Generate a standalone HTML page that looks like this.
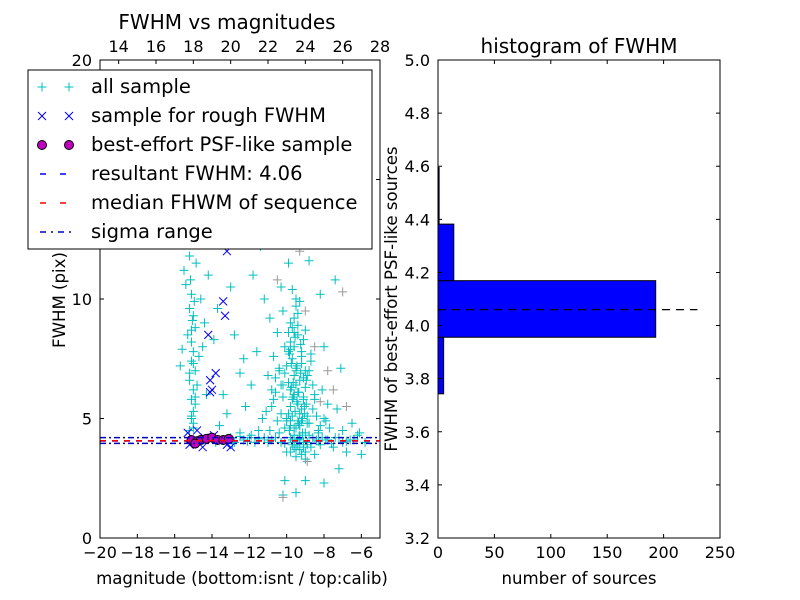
<!DOCTYPE html>
<html><head><meta charset="utf-8"><style>
body{margin:0;background:#fff}
svg{display:block;font-family:"DejaVu Sans","Liberation Sans",sans-serif}
</style></head><body>
<svg id="chart" width="800" height="600" viewBox="0 0 800 600"></svg>
<script>
// ---------- data ----------
const allX=[-15.2,-15.1,-15.0,-15.1,-15.0,-15.2,-14.9,-15.1,-15.0,-15.1,-15.3,-14.9,-15.0,-15.2,-15.1,-15.4,-15.5,-15.2,-15.0,-15.3,-14.8,-14.7,-15.6,-15.7,-14.5,-14.4,-14.6,-14.2,-13.9,-13.7,-15.8,-14.9,-15.0,-14.3,-13.6,
-10.0,-9.8,-9.6,-9.9,-9.5,-9.7,-10.1,-9.4,-9.8,-10.2,-9.6,-9.3,-9.1,-9.0,-8.8,-8.6,-8.9,-9.2,-10.4,-10.6,-10.8,-11.0,-11.3,-11.6,-11.9,-12.2,-12.5,-10.5,-10.9,-11.2,-11.8,-10.3,-9.5,-9.9,-8.3,-8.0,-7.7,-7.3,-7.0,-6.5,-6.2,-6.8,-7.5,-8.5,-9.0,-9.5,-10.0,-9.7,-8.7,-10.1,-9.0,-8.0,-10.2,-9.5,-6.0,-7.2,-9.3,-8.1,-10.4,-11.5,-12.5,-12.0,-11.0,-9.6,-9.3,-10.0,-9.7,-9.8,-8.5,-10.7,-12.8,-13.0,-11.4,-12.6,-10.0,-8.8,-8.2,-7.4,-8.0,-7.1,-13.4,-13.2,-12.3,-9.4,-9.9,-10.3,
-14.5,-13.8,-13.0,-12.3,-11.7,-11.2,-10.8,-10.3,-9.8,-9.4,-9.1,-8.8,-8.4,-8.2,-7.8,-7.4,-7.0,-6.6,-6.1,-12.8,-11.9,
-9.6,-9.2,-9.9,-10.1,-9.4,-9.7,-9.0,-9.3,-9.8,-10.2,-9.5,-8.9,-9.1,-9.6,-10.0,-9.4,-8.7,-9.2,-9.8,-9.5,
-9.55,-9.45,-9.35,-9.65,-9.75,-9.85,-9.25,-9.15,-9.05,-8.95,-9.55,-9.45,-9.35,-9.65,-9.75,-9.85,-9.25,-9.15,-9.05,-8.95,
-9.6,-9.5,-9.4,-9.7,-9.8,-9.3,-9.2,-9.1,-9.0,-8.9,-9.6,-9.5,-9.4,-9.7,-9.8,-9.3,-9.2,-9.1,-9.0,-8.9,
-10.1,-10.3,-10.5,-10.7,-10.9,-11.1,-10.2,-10.4,-10.6,-10.8,-8.8,-8.6,-8.4,-8.2,-8.7,-8.5,-8.3,-8.1,-7.9,-7.8,
-15.0,-15.1,-14.9,-15.2,-15.0,-15.1,-14.95,-15.05,-15.15,-14.85,
-14.0,-13.5,-12.9,-12.5,-12.1,-11.5,-11.0,-10.6,-10.1,-9.7,-9.3,-8.9,-8.6,-8.3,-7.9,-7.6,-7.2,-6.8,-6.4,-5.8,
-9.4,-9.6,-9.8,-9.2,-9.0,-9.5,-9.7,-9.3,-9.1,-9.9];
const allY=[4.5,5.0,5.3,5.8,6.2,6.6,7.0,7.4,7.8,8.2,8.5,8.8,9.3,9.6,10.2,10.6,11.2,11.8,12.3,12.9,6.4,7.6,7.9,7.2,8.0,9.0,10.0,11.0,8.3,9.6,12.5,5.6,4.8,6.0,4.7,
5.0,5.5,6.0,6.5,7.0,7.5,8.0,8.5,9.0,9.5,4.6,5.2,5.8,6.3,4.8,5.4,6.8,7.3,7.0,6.1,5.5,6.8,5.0,7.8,6.4,5.5,6.9,8.6,9.2,10.0,11.0,10.5,10.0,11.5,4.5,5.0,4.6,5.4,4.5,4.8,4.3,3.6,3.8,3.5,3.3,3.4,3.6,3.9,3.8,2.4,2.4,2.3,1.8,1.9,3.5,2.9,4.3,4.2,4.4,4.5,4.4,4.2,4.1,8.0,6.6,7.2,5.8,4.9,6.0,7.6,8.5,10.5,12.2,12.8,13.0,11.6,10.2,10.8,8.0,7.1,6.0,5.2,7.5,9.4,8.6,6.4,
4.1,4.0,4.2,4.1,4.0,4.2,4.1,4.0,4.2,4.1,4.0,4.3,4.1,3.9,4.1,4.2,4.0,4.1,4.4,4.0,4.3,
6.8,7.8,5.2,6.9,5.6,8.8,7.0,4.7,7.9,5.9,6.4,5.1,8.3,9.2,4.9,6.1,7.4,5.4,6.2,7.1,
5.3,5.7,6.1,6.5,7.3,7.7,8.1,5.0,5.5,6.6,8.4,7.2,4.8,5.9,6.3,4.5,6.9,4.4,5.2,5.6,
4.3,4.6,4.9,5.1,4.7,4.2,4.9,5.9,4.4,4.8,3.8,3.7,3.9,4.0,3.6,3.7,3.5,3.8,3.6,3.9,
4.6,5.2,4.9,5.8,4.5,5.3,6.4,7.1,6.7,6.2,7.0,6.4,5.1,4.7,7.7,5.8,4.4,6.2,4.9,5.6,
4.6,5.1,5.9,6.9,7.3,8.7,9.9,9.1,10.8,11.5,
4.2,4.1,3.95,4.25,4.05,4.15,4.0,4.2,3.95,4.1,4.15,4.0,4.2,4.05,4.1,3.95,4.2,4.05,4.1,4.0,
8.9,8.6,8.2,7.6,8.7,9.7,10.4,9.9,6.7,7.8];
const grayX=[-9.0,-8.5,-7.8,-7.5,-8.2,-9.3,-10.5,-7.0,-6.8,-8.9,-10.2];
const grayY=[9.5,8.0,7.0,6.2,5.7,12.0,10.8,10.3,5.5,3.2,1.7];
const roughX=[-15.3,-14.8,-14.2,-14.1,-14.0,-13.8,-14.1,-13.4,-13.3,-13.2,-15.2,-14.5,-13.9,-13.0,-13.2,-14.4];
const roughY=[4.4,4.5,8.5,6.1,6.2,6.9,6.6,9.9,9.3,12.0,3.9,3.8,4.3,3.8,3.9,4.2];
const psfX=[-15.1,-14.8,-14.6,-14.3,-14.0,-13.7,-13.4,-13.1,-14.9];
const psfY=[4.1,4.05,4.1,4.15,4.2,4.1,4.1,4.15,3.95];
const resultFWHM=4.06, medianFWHM=4.07, sigmaLo=3.96, sigmaHi=4.2;
const binEdges=[3.743,3.956,4.169,4.382,4.595];
const binCounts=[5,193,14,1];
const xTicksL=[-20,-18,-16,-14,-12,-10,-8,-6];
const xTicksTop=[14,16,18,20,22,24,26,28];
const yTicksL=[0,5,10,15,20];
const xTicksR=[0,50,100,150,200,250];
const yTicksR=[3.2,3.4,3.6,3.8,4.0,4.2,4.4,4.6,4.8,5.0];

// ---------- axes ----------
const L={x0:100,x1:380,y0:60,y1:538};
const R={x0:438,x1:720,y0:60,y1:538};
const lx=v=>L.x0+(v+20)/15*(L.x1-L.x0);
const ltx=v=>L.x0+(v-13)/15*(L.x1-L.x0);
const ly=v=>L.y1-v/20*(L.y1-L.y0);
const rx=v=>R.x0+v/250*(R.x1-R.x0);
const ry=v=>R.y1-(v-3.2)/1.8*(R.y1-R.y0);
const NS='http://www.w3.org/2000/svg';
const svg=document.getElementById('chart');
function mk(tag,at,parent){const e=document.createElementNS(NS,tag);for(const k in at)e.setAttribute(k,at[k]);(parent||svg).appendChild(e);return e;}
function txt(s,x,y,size,anchor,parent,rot){const e=mk('text',{x:x,y:y,'font-size':size,'text-anchor':anchor||'middle',fill:'#000'},parent);if(rot)e.setAttribute('transform','rotate(-90 '+x+' '+y+')');e.textContent=s;return e;}
function plus(g,x,y,c){mk('path',{d:`M${x-4.5},${y}h9M${x},${y-4.5}v9`,stroke:c,'stroke-width':1,fill:'none'},g);}
function cross(g,x,y,c){mk('path',{d:`M${x-4},${y-4}l8,8M${x-4},${y+4}l8,-8`,stroke:c,'stroke-width':1,fill:'none'},g);}

// left plot
const gL=mk('g',{});


const clip=mk('clipPath',{id:'cl'});mk('rect',{x:L.x0,y:L.y0,width:L.x1-L.x0,height:L.y1-L.y0},clip);
const pts=mk('g',{'clip-path':'url(#cl)'},gL);
const gAll=mk('g',{},pts);
for(let i=0;i<allX.length;i++)plus(gAll,lx(allX[i]),ly(allY[i]),'#00bfbf');
const gGr=mk('g',{},pts);
for(let i=0;i<grayX.length;i++)plus(gGr,lx(grayX[i]),ly(grayY[i]),'#999');
const gRo=mk('g',{},pts);
for(let i=0;i<roughX.length;i++)cross(gRo,lx(roughX[i]),ly(roughY[i]),'#0000ff');
const gPs=mk('g',{},pts);
for(let i=0;i<psfX.length;i++)mk('circle',{cx:lx(psfX[i]),cy:ly(psfY[i]),r:4.5,fill:'#bf00bf',stroke:'#000','stroke-width':1},gPs);
const hl=[[sigmaHi,'#0000bf','6,3,2,3','sigma-upper-line'],[sigmaLo,'#0000bf','6,3,2,3','sigma-lower-line'],[resultFWHM,'#0000ff','6,6','resultant-fwhm-line'],[medianFWHM,'#ff0000','6,6','median-fwhm-line']];
hl.forEach(h=>{const e=mk('line',{x1:L.x0,x2:L.x1,y1:ly(h[0]),y2:ly(h[0]),stroke:h[1],'stroke-width':1.5,'stroke-dasharray':h[2]},pts);});
mk('rect',{x:L.x0,y:L.y0,width:L.x1-L.x0,height:L.y1-L.y0,fill:'none',stroke:'#000','stroke-width':1},gL);
xTicksL.forEach(v=>{const x=lx(v);mk('path',{d:`M${x},${L.y1}v-4`,stroke:'#000'},gL);txt(v<0?'\u2212'+(-v):v,x,L.y1+20,16,'middle',gL);});
xTicksTop.forEach(v=>{const x=ltx(v);mk('path',{d:`M${x},${L.y0}v4`,stroke:'#000'},gL);txt(v,x,L.y0-8,16,'middle',gL);});
yTicksL.forEach(v=>{const y=ly(v);mk('path',{d:`M${L.x0},${y}h4M${L.x1},${y}h-4`,stroke:'#000'},gL);txt(v,L.x0-8,y+6,16,'end',gL);});
txt('magnitude (bottom:isnt / top:calib)',242,584,16.6,'middle',gL);
txt('FWHM (pix)',65,300,16.6,'middle',gL,true);
txt('FWHM vs magnitudes',227,29,20,'middle',gL);

// right histogram
const gR=mk('g',{});


for(let i=0;i<binCounts.length;i++){
  const b=mk('rect',{x:rx(0),y:ry(binEdges[i+1]),width:rx(binCounts[i])-rx(0),height:ry(binEdges[i])-ry(binEdges[i+1]),fill:'#0000ff',stroke:'#000','stroke-width':1},gR);
  
  
}
const hd=mk('line',{x1:rx(0),x2:rx(230),y1:ry(resultFWHM),y2:ry(resultFWHM),stroke:'#000','stroke-width':1.2,'stroke-dasharray':'8,6'},gR);

mk('rect',{x:R.x0,y:R.y0,width:R.x1-R.x0,height:R.y1-R.y0,fill:'none',stroke:'#000','stroke-width':1},gR);
xTicksR.forEach(v=>{const x=rx(v);mk('path',{d:`M${x},${R.y1}v-4M${x},${R.y0}v4`,stroke:'#000'},gR);txt(v,x,R.y1+20,16,'middle',gR);});
yTicksR.forEach(v=>{const y=ry(v);mk('path',{d:`M${R.x0},${y}h4M${R.x1},${y}h-4`,stroke:'#000'},gR);txt(v.toFixed(1),R.x0-8,y+6,16,'end',gR);});
txt('number of sources',579,584,16.6,'middle',gR);
txt('FWHM of best-effort PSF-like sources',397,299,16.6,'middle',gR,true);
txt('histogram of FWHM',579,53,20,'middle',gR);

// legend
const lg=mk('g',{});


mk('rect',{x:28,y:70,width:344,height:179,fill:'#fff',stroke:'#000','stroke-width':1},lg);
const labels=['all sample','sample for rough FWHM','best-effort PSF-like sample','resultant FWHM: 4.06','median FHWM of sequence','sigma range'];
labels.forEach((s,i)=>{
  const y=87+i*29;
  const e=mk('g',{},lg);
  if(i===0){plus(e,42,y,'#00bfbf');plus(e,69,y,'#00bfbf');}
  if(i===1){cross(e,42,y,'#0000ff');cross(e,69,y,'#0000ff');}
  if(i===2){mk('circle',{cx:42,cy:y,r:4.5,fill:'#bf00bf',stroke:'#000'},e);mk('circle',{cx:69,cy:y,r:4.5,fill:'#bf00bf',stroke:'#000'},e);}
  if(i===3)mk('line',{x1:40,x2:72,y1:y,y2:y,stroke:'#0000ff','stroke-width':1.5,'stroke-dasharray':'6,14'},e);
  if(i===4)mk('line',{x1:40,x2:72,y1:y,y2:y,stroke:'#ff0000','stroke-width':1.5,'stroke-dasharray':'6,14'},e);
  if(i===5)mk('line',{x1:40,x2:72,y1:y,y2:y,stroke:'#0000bf','stroke-width':1.5,'stroke-dasharray':'6,5,2,5'},e);
  txt(s,91,y+6,19.5,'start',e);
});
</script>
</body></html>
